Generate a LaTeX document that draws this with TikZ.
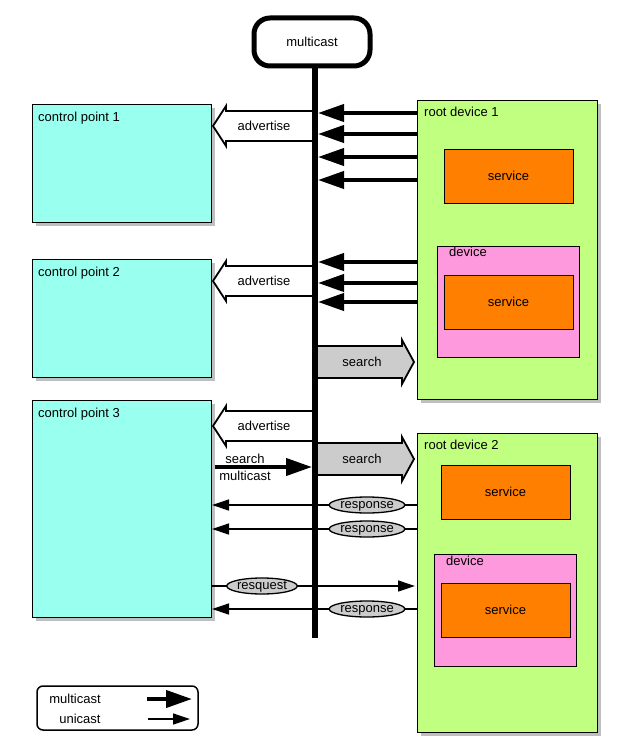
\documentclass[tikz,border=0pt]{standalone}
\usepackage{fontspec}
\setmainfont{Liberation Sans}
\usetikzlibrary{arrows.meta,shapes.geometric}
\begin{document}
\begin{tikzpicture}[x=1pt,y=-1pt,font=\fontsize{13}{15}\selectfont,
  shadow/.style={fill=black!25},
  lbl/.style={anchor=north west,inner sep=0pt},
  mc/.style={line width=4pt,-{Triangle[length=26pt,width=17pt]}},
  uc/.style={line width=1.3pt,-{Triangle[length=17pt,width=11pt]}},
  ell/.style={ellipse,draw,line width=1.3pt,fill=black!20,inner sep=0pt,minimum width=68pt,minimum height=16pt,text height=7pt,text depth=1pt},
  blk/.style={draw,line width=1.8pt}]
\useasboundingbox (0,0) rectangle (627,749);
\definecolor{cp}{HTML}{99FFEE}
\definecolor{gr}{HTML}{C0FF80}
\definecolor{or}{HTML}{FF8000}
\definecolor{pk}{HTML}{FF99DD}
% control points
\foreach \n/\y/\h/\lab in {cp1/104/118/control point 1,cp2/259/118/control point 2,cp3/400/217/control point 3}{
  \fill[shadow] (36,\y+4) rectangle (215,\y+\h+4);
  \draw[line width=0.8pt,fill=cp] (32,\y) rectangle (211,\y+\h);
  \node[lbl] (\n) at (38,\y+8) {\lab};
}
% root devices
\foreach \n/\y/\lab in {rd1/100/root device 1,rd2/433/root device 2}{
  \fill[shadow] (421,\y+4) rectangle (601,\y+303);
  \draw[line width=0.8pt,fill=gr] (417,\y) rectangle (597,\y+299);
  \node[lbl] (\n) at (424,\y+7) {\lab};
}
% services and devices
\draw[line width=0.8pt,fill=or] (444,149) rectangle (573,203);
\node (s1) at (508.5,176) {service};
\draw[line width=0.8pt,fill=pk] (437,246) rectangle (579,357);
\node[lbl] (d1) at (449,247) {device};
\draw[line width=0.8pt,fill=or] (444,275) rectangle (573,329);
\node (s2) at (508.5,302) {service};
\draw[line width=0.8pt,fill=or] (441,465) rectangle (570,519);
\node (s3) at (505.5,492) {service};
\draw[line width=0.8pt,fill=pk] (434,554) rectangle (576,666);
\node[lbl] (d2) at (446,556) {device};
\draw[line width=0.8pt,fill=or] (441,583) rectangle (570,637);
\node (s4) at (505.5,610) {service};
% advertise block arrows
\foreach \c/\n in {126/a1,281/a2,426/a3}{
  \draw[blk,fill=white] (313,\c-15)--(226,\c-15)--(226,\c-20)--(213,\c)--(226,\c+20)--(226,\c+15)--(313,\c+15);
  \node (\n) at (264,\c) {advertise};
}
% search block arrows
\foreach \c/\n in {362/sa,459/sb}{
  \draw[blk,fill=black!20] (318,\c-16)--(402,\c-16)--(402,\c-22)--(414,\c)--(402,\c+22)--(402,\c+16)--(318,\c+16);
  \node (\n) at (362,\c) {search};
}
% bus
\draw[line width=6pt] (315,62) -- (315,638);
\node[draw,line width=5pt,rounded corners=16pt,minimum width=116pt,minimum height=48pt,fill=white] (mc) at (312,42) {multicast};
% multicast arrows from root device 1
\foreach \y in {113,134,157,180,262,283,302}{
  \draw[mc] (417,\y) -- (318,\y);
}
% search multicast
\draw[mc] (215,467) -- (312,467);
\node (sm1) at (245,459) {search};
\node (sm2) at (245,476) {multicast};
% unicast
\draw[uc] (417,505) -- (212,505);
\node[ell] (r1) at (367,505) {response};
\draw[uc] (417,529) -- (212,529);
\node[ell] (r2) at (367,529) {response};
\draw[uc] (212,586) -- (415,586);
\node[ell] (rq) at (262,586) {resquest};
\draw[uc] (417,609) -- (212,609);
\node[ell] (r3) at (367,609) {response};
% legend
\draw[line width=1.5pt,rounded corners=6pt] (37,686) rectangle (198,730);
\node (lm) at (75,699) {multicast};
\node (lu) at (80,719) {unicast};
\draw[mc] (147,699) -- (192,699);
\draw[uc] (148,719) -- (190,719);
\end{tikzpicture}
\end{document}
